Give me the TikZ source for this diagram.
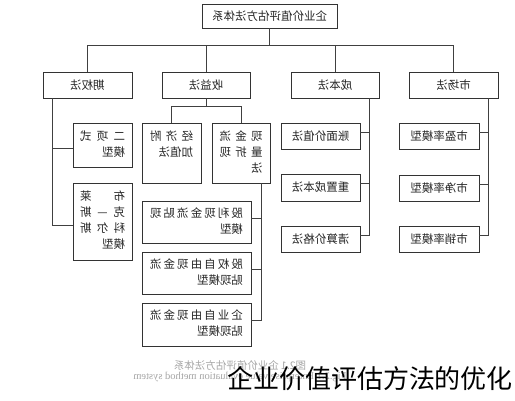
\documentclass[tikz,border=0pt]{standalone}
\usepackage{fontspec}
\usepackage{graphicx}
\newfontfamily\cjk{Noto Sans CJK SC}
\newfontfamily\enserif{Liberation Serif}
\newcommand\Mir[1]{\reflectbox{\begin{tabular}{@{}l@{}}#1\end{tabular}}}
\newcommand\Spr[2]{\makebox[#1][s]{#2}}
\begin{document}
\begin{tikzpicture}[x=1pt,y=-1pt,
  bx/.style={draw=black!80, line width=0.9pt, inner sep=0pt, font=\cjk\fontsize{11.5}{16}\selectfont, text=black!85},
  ln/.style={draw=black!75, line width=0.9pt}]
\useasboundingbox (0,0) rectangle (515,400);
\fill[white] (0,0) rectangle (515,400);

% top
\node[bx, minimum width=135pt, minimum height=24pt] (top) at (269.5,16) {\reflectbox{企业价值评估方法体系}};
% level 2
\node[bx, minimum width=89pt, minimum height=26pt] (qq) at (87.5,85) {\reflectbox{期权法}};
\node[bx, minimum width=88pt, minimum height=26pt] (sy) at (206,85) {\reflectbox{收益法}};
\node[bx, minimum width=88pt, minimum height=26pt] (cb) at (335,85) {\reflectbox{成本法}};
\node[bx, minimum width=89pt, minimum height=26pt] (sc) at (453.5,85) {\reflectbox{市场法}};

% option method children
\node[bx, minimum width=59pt, minimum height=44pt] (ex) at (102.5,145) {\Mir{\Spr{45pt}{二\hfill 项\hfill 式}\\模型}};
\node[bx, minimum width=59pt, minimum height=77pt] (bs) at (102.5,221.5) {\Mir{\Spr{45pt}{布\hfill 莱}\\\Spr{45pt}{克\hfill —\hfill 斯}\\\Spr{45pt}{科\hfill 尔\hfill 斯}\\模型}};

% income method children
\node[bx, minimum width=59pt, minimum height=60pt] (jj) at (171.5,153) {\Mir{\Spr{43pt}{经\hfill 济\hfill 附}\\加值法\\~}};
\node[bx, minimum width=58pt, minimum height=60pt] (xj) at (241,153) {\Mir{\Spr{43pt}{现\hfill 金\hfill 流}\\\Spr{43pt}{量\hfill 折\hfill 现}\\法}};

% DCF children
\node[bx, minimum width=109pt, minimum height=42pt] (gl) at (196.5,222) {\Mir{\Spr{93pt}{股\hfill 利\hfill 现\hfill 金\hfill 流\hfill 贴\hfill 现}\\模型}};
\node[bx, minimum width=109pt, minimum height=42pt] (gq) at (196.5,273) {\Mir{\Spr{93pt}{股\hfill 权\hfill 自\hfill 由\hfill 现\hfill 金\hfill 流}\\贴现模型}};
\node[bx, minimum width=109pt, minimum height=43pt] (qy) at (196.5,324.5) {\Mir{\Spr{93pt}{企\hfill 业\hfill 自\hfill 由\hfill 现\hfill 金\hfill 流}\\贴现模型}};

% cost method children
\node[bx, minimum width=79pt, minimum height=26pt] (zm) at (320.5,136) {\reflectbox{账面价值法}};
\node[bx, minimum width=79pt, minimum height=27pt] (cz) at (320.5,187.5) {\reflectbox{重置成本法}};
\node[bx, minimum width=79pt, minimum height=26pt] (qs) at (320.5,239) {\reflectbox{清算价格法}};

% market method children
\node[bx, minimum width=80pt, minimum height=26pt] (pe) at (439,136) {\reflectbox{市盈率模型}};
\node[bx, minimum width=80pt, minimum height=26pt] (pb) at (439,188) {\reflectbox{市净率模型}};
\node[bx, minimum width=80pt, minimum height=26pt] (ps) at (439,239) {\reflectbox{市销率模型}};

% connectors: top level
\coordinate (bus) at (0,45);
\draw[ln] (top.south) -- (top.south |- bus);
\draw[ln] (qq.north) -- (qq.north |- bus) -- (sc.north |- bus) -- (sc.north);
\draw[ln] (sy.north) -- (sy.north |- bus);
\draw[ln] (cb.north) -- (cb.north |- bus);

% option method
\coordinate (qqd) at ([xshift=10pt]qq.south west);
\draw[ln] (qqd) |- ([yshift=-4pt]bs.west);
\draw[ln] ([yshift=-3pt]ex.west) -- ([yshift=-3pt]ex.west -| qqd);

% income method
\coordinate (syd) at (0,106);
\draw[ln] (sy.south) -- (sy.south |- syd);
\draw[ln] (jj.north) -- (jj.north |- syd) -- (xj.north |- syd) -- (xj.north);

% DCF
\coordinate (xjd) at ([xshift=-9pt]xj.south east);
\draw[ln] (xjd) |- ([yshift=4pt]qy.east);
\draw[ln] ([yshift=4pt]gl.east) -- ([yshift=4pt]gl.east -| xjd);
\draw[ln] ([yshift=4pt]gq.east) -- ([yshift=4pt]gq.east -| xjd);

% cost method
\coordinate (cbd) at ([xshift=-10pt]cb.south east);
\draw[ln] (cbd) |- ([yshift=4pt]qs.east);
\draw[ln] ([yshift=4pt]zm.east) -- ([yshift=4pt]zm.east -| cbd);
\draw[ln] ([yshift=4pt]cz.east) -- ([yshift=4pt]cz.east -| cbd);

% market method
\coordinate (scd) at ([xshift=-10pt]sc.south east);
\draw[ln] (scd) |- ([yshift=4pt]ps.east);
\draw[ln] ([yshift=4pt]pe.east) -- ([yshift=4pt]pe.east -| scd);
\draw[ln] ([yshift=4pt]pb.east) -- ([yshift=4pt]pb.east -| scd);

% captions (mirrored, faint)
\node[font=\cjk\fontsize{10.5}{12}\selectfont, text=black!35] (cap1) at (240,365) {\reflectbox{图2.1 企业价值评估方法体系}};
\node[font=\enserif\fontsize{10.5}{12}\selectfont, text=black!35] (cap2) at (240,376.5) {\reflectbox{Fig.2.1 Enterprise value evaluation method system}};

% watermark
\node[font=\cjk\fontsize{26}{30}\selectfont, text=black, inner sep=0pt] (wm) at (370,379) {企业价值评估方法的优化};
\end{tikzpicture}
\end{document}
